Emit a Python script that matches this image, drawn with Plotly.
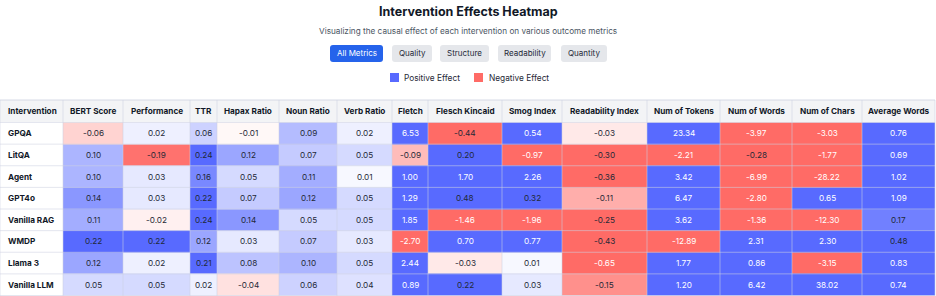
import plotly.graph_objects as go

W, H = 936, 296

interventions = ["GPQA", "LitQA", "Agent", "GPT4o", "Vanilla RAG", "WMDP", "Llama 3", "Vanilla LLM"]
metrics = ["BERT Score", "Performance", "TTR", "Hapax Ratio", "Noun Ratio", "Verb Ratio", "Fletch",
           "Flesch Kincaid", "Smog Index", "Readability Index", "Num of Tokens", "Num of Words",
           "Num of Chars", "Average Words"]

bert_score = [-0.06, 0.10, 0.10, 0.14, 0.11, 0.22, 0.12, 0.05]
performance = [0.02, -0.19, 0.03, 0.03, -0.02, 0.22, 0.02, 0.05]
ttr = [0.06, 0.24, 0.16, 0.22, 0.24, 0.12, 0.21, 0.02]
hapax_ratio = [-0.01, 0.12, 0.05, 0.07, 0.14, 0.03, 0.08, -0.04]
noun_ratio = [0.09, 0.07, 0.11, 0.12, 0.05, 0.07, 0.10, 0.06]
verb_ratio = [0.02, 0.05, 0.01, 0.05, 0.05, 0.03, 0.05, 0.04]
fletch = [6.53, -0.09, 1.00, 1.29, 1.85, -2.70, 2.44, 0.89]
flesch_kincaid = [-0.44, 0.20, 1.70, 0.48, -1.46, 0.70, -0.03, 0.22]
smog_index = [0.54, -0.97, 2.26, 0.32, -1.96, 0.77, 0.01, 0.03]
readability_index = [-0.03, -0.30, -0.36, -0.11, -0.25, -0.43, -0.65, -0.15]
num_tokens = [23.34, -2.21, 3.42, 6.47, 3.62, -12.89, 1.77, 1.20]
num_words = [-3.97, -0.28, -6.99, -2.80, -1.36, 2.31, 0.86, 6.42]
num_chars = [-3.03, -1.77, -28.22, 0.65, -12.30, 2.30, -3.15, 38.02]
average_words = [0.76, 0.69, 1.02, 1.09, 0.17, 0.48, 0.83, 0.74]

columns = [bert_score, performance, ttr, hapax_ratio, noun_ratio, verb_ratio, fletch,
           flesch_kincaid, smog_index, readability_index, num_tokens, num_words,
           num_chars, average_words]

filter_buttons = ["All Metrics", "Quality", "Structure", "Readability", "Quantity"]
legend_labels = ["Positive Effect", "Negative Effect"]

POS = "rgb(88,106,255)"
NEG = "rgb(255,107,102)"
FONT = "Inter, Roboto, sans-serif"

# layout: column widths (px) of the table, first is the Intervention column
col_widths = [63, 60, 67, 27, 62, 58, 55, 36, 74, 60, 85, 73, 72, 70, 73]
edges = [0]
for w in col_widths:
    edges.append(edges[-1] + w)
TABLE_R = edges[-1]
HEADER_TOP, HEADER_BOT = 100, 122


def px(x):
    return x / W


def py(y):
    return 1 - y / H


def intensity(v):
    return max(-1.0, min(1.0, v / 0.2))


z = [[intensity(col[i]) for col in columns] for i in range(len(interventions))]

fig = go.Figure()
fig.add_trace(go.Heatmap(
    x=edges[1:],
    y=interventions,
    z=z,
    customdata=[[col[i] for col in columns] for i in range(len(interventions))],
    hovertemplate="%{y}: %{customdata:.2f}<extra></extra>",
    colorscale=[[0, NEG], [0.5, "white"], [1, POS]],
    zmin=-1, zmax=1,
    showscale=False,
))

shapes = []
annotations = []

# header background
shapes.append(dict(type="rect", xref="x", yref="paper", x0=0, x1=TABLE_R, y0=py(HEADER_BOT), y1=py(HEADER_TOP),
                   fillcolor="#f3f4f6", line=dict(width=0), layer="below"))
# grid lines
for e in edges:
    shapes.append(dict(type="line", xref="x", yref="paper", x0=e, x1=e, y0=0, y1=py(HEADER_TOP),
                       line=dict(color="rgba(205,210,225,0.55)", width=1)))
shapes.append(dict(type="line", xref="x", yref="paper", x0=0, x1=TABLE_R, y0=py(HEADER_TOP), y1=py(HEADER_TOP),
                   line=dict(color="rgba(205,210,225,0.8)", width=1)))
for k in range(len(interventions) + 1):
    shapes.append(dict(type="line", xref="x", yref="y", x0=0, x1=TABLE_R, y0=k - 0.5, y1=k - 0.5,
                       line=dict(color="rgba(205,210,225,0.55)", width=1)))

# header labels
annotations.append(dict(text="<b>Intervention</b>", x=6, y=py((HEADER_TOP + HEADER_BOT) / 2), xref="x",
                        yref="paper", showarrow=False, xanchor="left", yanchor="middle",
                        font=dict(family=FONT, size=8.2, color="#111827")))
for j, m in enumerate(metrics):
    annotations.append(dict(text="<b>%s</b>" % m, x=(edges[j + 1] + edges[j + 2]) / 2,
                            y=py((HEADER_TOP + HEADER_BOT) / 2), xref="x", yref="paper", showarrow=False,
                            xanchor="center", yanchor="middle",
                            font=dict(family=FONT, size=8.2, color="#111827")))

# row labels and cell values
for i, name in enumerate(interventions):
    annotations.append(dict(text="<b>%s</b>" % name, x=6, y=name, xref="x", yref="y", showarrow=False,
                            xanchor="left", yanchor="middle",
                            font=dict(family=FONT, size=8.2, color="#111827")))
    for j, col in enumerate(columns):
        v = col[i]
        annotations.append(dict(text="%.2f" % v, x=(edges[j + 1] + edges[j + 2]) / 2, y=name,
                                xref="x", yref="y", showarrow=False, xanchor="center", yanchor="middle",
                                font=dict(family=FONT, size=8.2,
                                          color="white" if abs(v) > 0.5 else "#1f2937")))


def rounded_rect(x0, y0, x1, y1, r):
    X0, X1 = px(x0), px(x1)
    Y0, Y1 = py(y0), py(y1)
    rx, ry = r / W, r / H
    return (f"M {X0+rx},{Y0} L {X1-rx},{Y0} Q {X1},{Y0} {X1},{Y0-ry} "
            f"L {X1},{Y1+ry} Q {X1},{Y1} {X1-rx},{Y1} L {X0+rx},{Y1} "
            f"Q {X0},{Y1} {X0},{Y1+ry} L {X0},{Y0-ry} Q {X0},{Y0} {X0+rx},{Y0} Z")


annotations.append(dict(text="<b>Intervention Effects Heatmap</b>", x=px(468), y=py(11),
                        xref="paper", yref="paper", showarrow=False, xanchor="center", yanchor="middle",
                        font=dict(family=FONT, size=12.5, color="#111827")))
annotations.append(dict(text="Visualizing the causal effect of each intervention on various outcome metrics",
                        x=px(468), y=py(31), xref="paper", yref="paper", showarrow=False,
                        xanchor="center", yanchor="middle",
                        font=dict(family=FONT, size=8.2, color="#4b5563")))

btn_x = [(330, 383), (392, 432), (440, 489), (498, 551), (561, 607)]
for i, (label, (x0, x1)) in enumerate(zip(filter_buttons, btn_x)):
    active = i == 0
    shapes.append(dict(type="path", path=rounded_rect(x0, 45, x1, 62, 3), xref="paper", yref="paper",
                       fillcolor="#2563eb" if active else "#e5e7eb", line=dict(width=0)))
    annotations.append(dict(text=label, x=px((x0 + x1) / 2), y=py(53.5), xref="paper", yref="paper",
                            showarrow=False, xanchor="center", yanchor="middle",
                            font=dict(family=FONT, size=8, color="white" if active else "#1f2937")))

leg = [(390, 402, POS), (474, 487, NEG)]
for label, (sx, tx, col) in zip(legend_labels, leg):
    shapes.append(dict(type="rect", x0=px(sx), x1=px(sx + 9), y0=py(82), y1=py(73), xref="paper", yref="paper",
                       fillcolor=col, line=dict(width=0)))
    annotations.append(dict(text=label, x=px(tx), y=py(77.5), xref="paper", yref="paper", showarrow=False,
                            xanchor="left", yanchor="middle",
                            font=dict(family=FONT, size=8.3, color="#1f2937")))

fig.update_layout(
    width=W, height=H,
    margin=dict(l=0, r=0, t=0, b=0),
    paper_bgcolor="white",
    plot_bgcolor="white",
    shapes=shapes,
    annotations=annotations,
    font=dict(family=FONT),
    xaxis=dict(range=[0, W], domain=[0, 1], showgrid=False, zeroline=False, showticklabels=False,
               ticks="", fixedrange=True),
    yaxis=dict(type="category", categoryorder="array", categoryarray=interventions, autorange="reversed",
               domain=[0, py(HEADER_BOT)], showgrid=False, zeroline=False, showticklabels=False,
               ticks="", fixedrange=True),
)

fig.write_html("out.html", config={"displayModeBar": False},
               post_script="document.body.style.margin='0';document.body.style.overflow='hidden';")
